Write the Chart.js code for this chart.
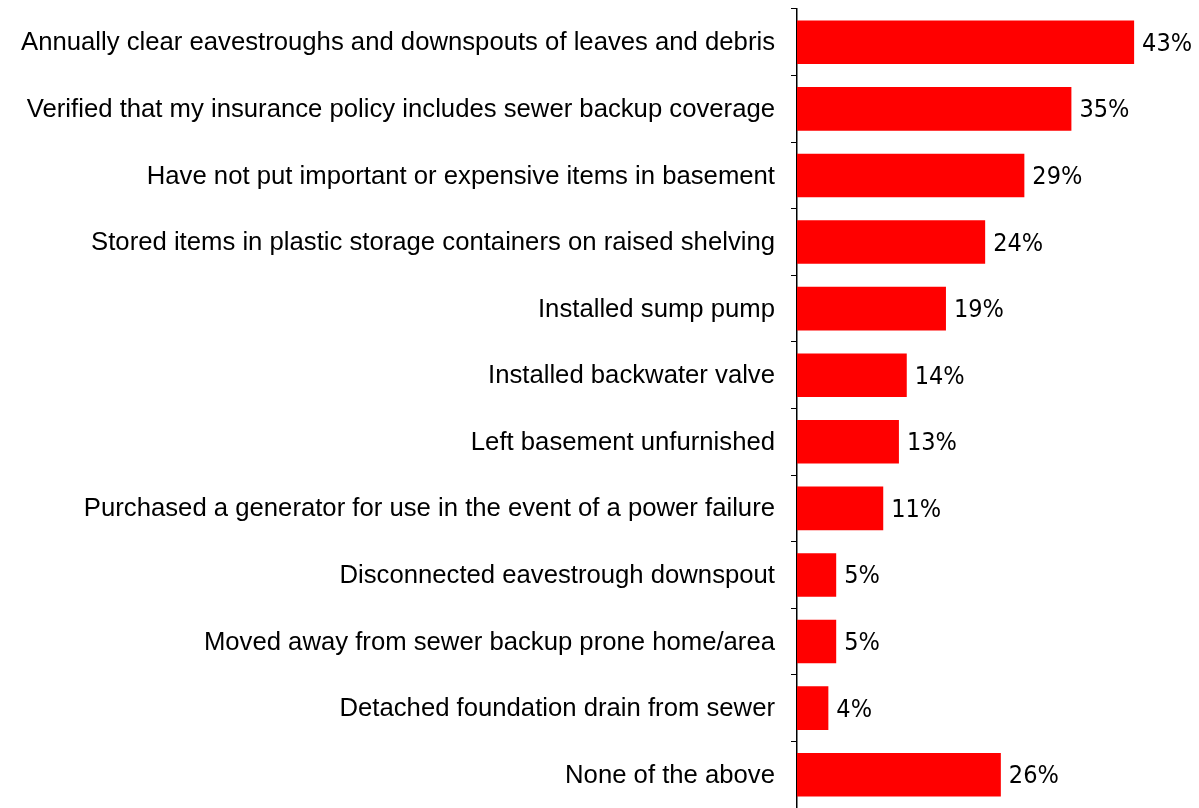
<!DOCTYPE html>
<html><head><meta charset="utf-8">
<script src="https://cdn.jsdelivr.net/npm/chart.js@4/dist/chart.umd.min.js"></script>
<style>html,body{margin:0;padding:0;background:#fff}#wrap{width:1199px;height:808px}</style>
</head><body><div id="wrap"><canvas id="c"></canvas></div>
<script>
const categories = [
  "Annually clear eavestroughs and downspouts of leaves and debris",
  "Verified that my insurance policy includes sewer backup coverage",
  "Have not put important or expensive items in basement",
  "Stored items in plastic storage containers on raised shelving",
  "Installed sump pump",
  "Installed backwater valve",
  "Left basement unfurnished",
  "Purchased a generator for use in the event of a power failure",
  "Disconnected eavestrough downspout",
  "Moved away from sewer backup prone home/area",
  "Detached foundation drain from sewer",
  "None of the above"
];
const values = [43, 35, 29, 24, 19, 14, 13, 11, 5, 5, 4, 26];

const valueLabels = {
  id: 'valueLabels',
  afterDatasetsDraw(chart) {
    const ctx = chart.ctx;
    const meta = chart.getDatasetMeta(0);
    ctx.save();
    ctx.font = '25px "DejaVu Sans Condensed", "DejaVu Sans", sans-serif';
    ctx.fillStyle = '#000';
    ctx.textAlign = 'left';
    ctx.textBaseline = 'middle';
    meta.data.forEach((bar, i) => {
      ctx.fillText(values[i] + '%', bar.x + 8, bar.y + 2);
    });
    ctx.restore();
  }
};

new Chart(document.getElementById('c'), {
  type: 'bar',
  data: { labels: categories, datasets: [{ data: values, backgroundColor: '#ff0000', barPercentage: 0.655, categoryPercentage: 1 }] },
  options: {
    indexAxis: 'y',
    responsive: true,
    maintainAspectRatio: false,
    animation: false,
    layout: { padding: { top: 9, right: 10, bottom: -3, left: 0 } },
    plugins: { legend: { display: false }, tooltip: { enabled: false } },
    scales: {
      x: { display: false, min: 0, max: 50 },
      y: {
        offset: true,
        afterFit(scale) { scale.width = 797; scale.paddingTop = 0; scale.paddingBottom = 0; },
        grid: { offset: true, drawOnChartArea: false, drawTicks: true, tickLength: 6, color: '#000', lineWidth: 1 },
        border: { display: true, color: '#000', width: 1.5 },
        ticks: { color: '#000', padding: 16, autoSkip: false, labelOffset: 1, font: { family: 'Arial, "Liberation Sans", sans-serif', size: 25.7 } }
      }
    }
  },
  plugins: [valueLabels]
});
</script></body></html>
